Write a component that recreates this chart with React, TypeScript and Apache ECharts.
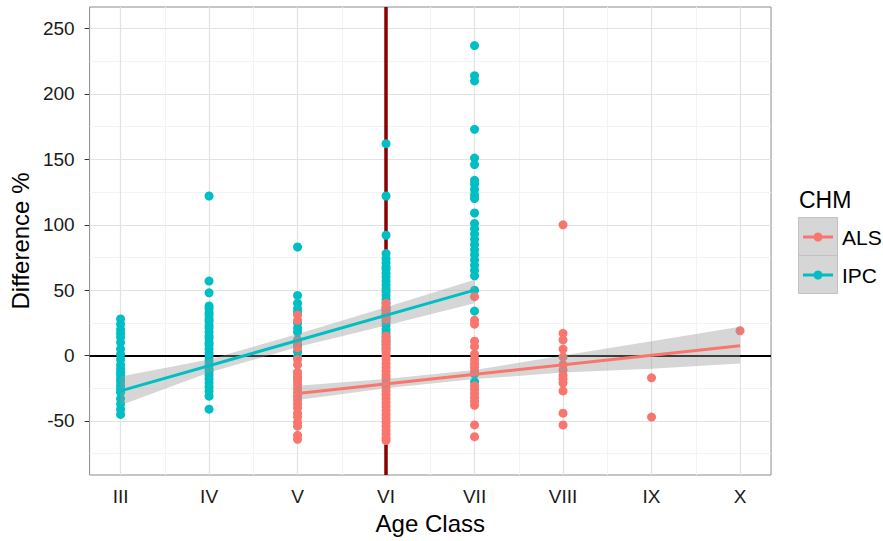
import React, { useEffect, useRef } from "react";
import * as echarts from "echarts";

// ---- Data ----
const classLabels = ["III", "IV", "V", "VI", "VII", "VIII", "IX", "X"];
const classPositions = [3, 4, 5, 6, 7, 8, 9, 10];
const xMinorBreaks = [3.5, 4.5, 5.5, 6.5, 7.5, 8.5, 9.5];
const yTicks = [-50, 0, 50, 100, 150, 200, 250];
const yMinorBreaks = [-75, -25, 25, 75, 125, 175, 225];

// IPC values per age class (III .. X)
const ipcValues: number[][] = [
  [28, 24, 20, 17, 14, 10, 5, 1, -3, -7, -10, -13, -15, -18, -20, -23, -26, -28, -33, -37, -41, -45],
  [122, 57, 48, 38, 36, 33, 31, 28, 26, 23, 21, 18, 15, 13, 10, 8, 5, 2, -1, -4, -7, -10, -12, -15, -18, -21, -24, -27, -31, -41],
  [83, 46, 40, 36, 33, 25, 21, 18, 12, 8, 3, -1, -13, -17],
  [162, 122, 92, 78, 74, 71, 68, 66, 63, 60, 57, 54, 51, 49, 46, 43, 40, 37, 35, 32, 29, 26, 23, 20, 17, 14, 11, 8, 5],
  [237, 214, 210, 173, 151, 146, 134, 131, 127, 123, 120, 109, 101, 97, 93, 89, 85, 81, 77, 73, 69, 65, 61, 50, 34, -14, -20],
  [],
  [],
  [],
];

// ALS values per age class (III .. X)
const alsValues: number[][] = [
  [],
  [],
  [31, 27, 11, 6, -3, -7, -13, -16, -19, -22, -25, -28, -31, -34, -37, -40, -44, -47, -51, -54, -61, -64],
  [40, 37, 34, 31, 28, 15, 12, 9, 6, 3, 0, -3, -6, -9, -12, -15, -18, -21, -24, -27, -30, -33, -36, -39, -42, -45, -48, -51, -54, -57, -60, -63, -65],
  [45, 27, 24, 11, 7, 1, -3, -6, -9, -12, -23, -26, -29, -32, -35, -38, -53, -62],
  [100, 17, 12, 5, -1, -7, -11, -15, -18, -21, -27, -44, -53],
  [-17, -47],
  [19],
];

// Linear fits
const ipcFitX = [3, 7];
const ipcFitY = [-27, 50];
const alsFitX = [5, 10];
const alsFitY = [-29, 7.6];

// Confidence bands
const ipcBandX = [3, 4, 5, 6, 7];
const ipcBandLow = [-38, -13, 6.5, 23, 40];
const ipcBandHigh = [-16, -3, 16.5, 37, 58];
const alsBandX = [5, 6, 7, 8, 9, 10];
const alsBandLow = [-34, -25, -18, -13, -10, -6];
const alsBandHigh = [-23, -18, -11, 0, 11, 22];

const ALS_COLOR = "#F8766D";
const IPC_COLOR = "#00BFC4";
const FONT = '"Liberation Sans", Arial, sans-serif';

function toPoints(values: number[][]): number[][] {
  const pts: number[][] = [];
  values.forEach((arr, i) => {
    arr.forEach((v) => pts.push([classPositions[i], v]));
  });
  return pts;
}

const bands = [
  { x: alsBandX, lo: alsBandLow, hi: alsBandHigh },
  { x: ipcBandX, lo: ipcBandLow, hi: ipcBandHigh },
];

export default function App() {
  const ref = useRef<HTMLDivElement>(null);

  useEffect(() => {
    if (!ref.current) return;
    const chart = echarts.init(ref.current, undefined, { renderer: "svg" });

    const option: any = {
      animation: false,
      backgroundColor: "#ffffff",
      grid: {
        left: 88,
        right: 112,
        top: 7,
        bottom: 66,
        show: true,
        borderColor: "#8c8c8c",
        borderWidth: 1,
        backgroundColor: "transparent",
      },
      xAxis: {
        type: "value",
        min: 2.65,
        max: 10.35,
        axisLine: { show: false },
        axisTick: {
          show: true,
          customValues: classPositions,
          length: 5,
          lineStyle: { color: "#333", width: 1 },
        },
        axisLabel: {
          customValues: classPositions,
          formatter: (v: number) => classLabels[Math.round(v) - 3],
          fontSize: 19,
          color: "#1a1a1a",
          margin: 12,
          fontFamily: FONT,
        },
        splitLine: { show: false },
        name: "Age Class",
        nameLocation: "middle",
        nameGap: 36,
        nameTextStyle: { fontSize: 24, color: "#000", fontFamily: FONT },
      },
      yAxis: {
        type: "value",
        min: -91.3,
        max: 266.5,
        axisLine: { show: false },
        axisTick: {
          show: true,
          customValues: yTicks,
          length: 5,
          lineStyle: { color: "#333", width: 1 },
        },
        axisLabel: {
          customValues: yTicks,
          fontSize: 19,
          color: "#1a1a1a",
          margin: 15,
          fontFamily: FONT,
        },
        splitLine: { show: false },
        name: "Difference %",
        nameLocation: "middle",
        nameRotate: 90,
        nameGap: 55,
        nameTextStyle: { fontSize: 24, color: "#000", fontFamily: FONT },
      },
      series: [
        {
          type: "line",
          data: [],
          silent: true,
          markLine: {
            z: 1,
            silent: true,
            animation: false,
            symbol: ["none", "none"],
            label: { show: false },
            emphasis: { disabled: true },
            data: [
              ...xMinorBreaks.map((x) => ({ xAxis: x, lineStyle: { color: "#f3f3f3", width: 1, type: "solid" } })),
              ...yMinorBreaks.map((y) => ({ yAxis: y, lineStyle: { color: "#f3f3f3", width: 1, type: "solid" } })),
              ...classPositions.map((x) => ({ xAxis: x, lineStyle: { color: "#e2e2e2", width: 1.2, type: "solid" } })),
              ...yTicks.map((y) => ({ yAxis: y, lineStyle: { color: "#e2e2e2", width: 1.2, type: "solid" } })),
            ],
          },
        },
        {
          type: "line",
          data: [],
          silent: true,
          markLine: {
            z: 2,
            silent: true,
            animation: false,
            symbol: ["none", "none"],
            label: { show: false },
            emphasis: { disabled: true },
            data: [
              { yAxis: 0, lineStyle: { color: "#000000", width: 2, type: "solid" } },
              { xAxis: 6, lineStyle: { color: "#8B0000", width: 3.5, type: "solid" } },
            ],
          },
        },
        {
          name: "IPC",
          type: "scatter",
          z: 3,
          symbolSize: 9,
          itemStyle: { color: IPC_COLOR, opacity: 1 },
          data: toPoints(ipcValues),
          silent: true,
        },
        {
          name: "ALS",
          type: "scatter",
          z: 3,
          symbolSize: 9,
          itemStyle: { color: ALS_COLOR, opacity: 1 },
          data: toPoints(alsValues),
          silent: true,
        },
        {
          type: "custom",
          z: 4,
          silent: true,
          data: bands.map((b) => [b.x[0], b.lo[0]]),
          renderItem: (params: any, api: any) => {
            const b = bands[params.dataIndex];
            const pts: number[][] = [];
            b.x.forEach((x, k) => pts.push(api.coord([x, b.hi[k]])));
            for (let k = b.x.length - 1; k >= 0; k--) pts.push(api.coord([b.x[k], b.lo[k]]));
            return {
              type: "polygon",
              shape: { points: pts },
              style: { fill: "rgba(153,153,153,0.4)", stroke: "none" },
            };
          },
        },
        {
          type: "line",
          z: 5,
          silent: true,
          showSymbol: false,
          lineStyle: { color: ALS_COLOR, width: 3 },
          data: alsFitX.map((x, i) => [x, alsFitY[i]]),
        },
        {
          type: "line",
          z: 5,
          silent: true,
          showSymbol: false,
          lineStyle: { color: IPC_COLOR, width: 3 },
          data: ipcFitX.map((x, i) => [x, ipcFitY[i]]),
        },
      ],
      graphic: [
        {
          type: "text",
          x: 799,
          y: 200,
          style: { text: "CHM", fill: "#000", font: `23px ${FONT}`, verticalAlign: "middle", align: "left" },
        },
        {
          type: "rect",
          shape: { x: 798.5, y: 217.5, width: 39, height: 38 },
          style: { fill: "#d6d6d6", stroke: "#c2c2c2", lineWidth: 1 },
        },
        {
          type: "rect",
          shape: { x: 798.5, y: 255.5, width: 39, height: 38 },
          style: { fill: "#d6d6d6", stroke: "#c2c2c2", lineWidth: 1 },
        },
        {
          type: "line",
          shape: { x1: 803, y1: 237, x2: 833, y2: 237 },
          style: { stroke: ALS_COLOR, lineWidth: 3 },
        },
        { type: "circle", shape: { cx: 818, cy: 237, r: 4.5 }, style: { fill: ALS_COLOR } },
        {
          type: "line",
          shape: { x1: 803, y1: 275, x2: 833, y2: 275 },
          style: { stroke: IPC_COLOR, lineWidth: 3 },
        },
        { type: "circle", shape: { cx: 818, cy: 275, r: 4.5 }, style: { fill: IPC_COLOR } },
        {
          type: "text",
          x: 842,
          y: 237,
          style: { text: "ALS", fill: "#000", font: `21px ${FONT}`, verticalAlign: "middle", align: "left" },
        },
        {
          type: "text",
          x: 842,
          y: 275,
          style: { text: "IPC", fill: "#000", font: `21px ${FONT}`, verticalAlign: "middle", align: "left" },
        },
      ],
    };

    chart.setOption(option);
    return () => {
      chart.dispose();
    };
  }, []);

  return (
    <div
      ref={ref}
      style={{ position: "fixed", left: 0, top: 0, width: 883, height: 541, background: "#fff" }}
    />
  );
}
